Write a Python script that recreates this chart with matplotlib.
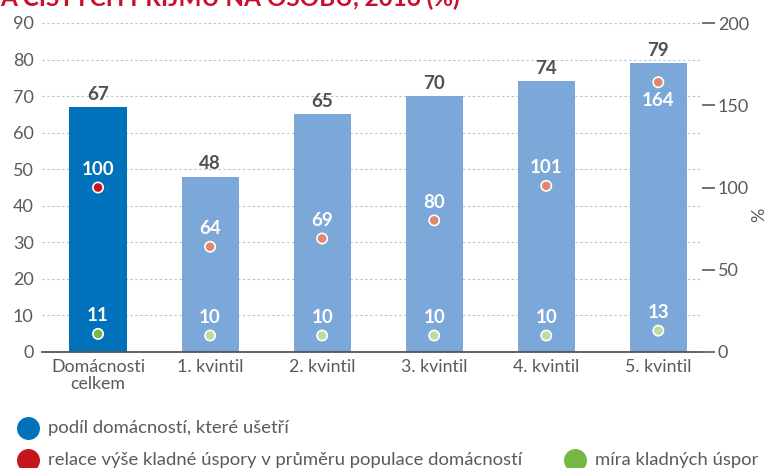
import matplotlib
matplotlib.use('Agg')
import matplotlib.pyplot as plt
from matplotlib.lines import Line2D

plt.rcParams['font.family'] = ['Lato', 'DejaVu Sans']

categories = ['Domácnosti\ncelkem', '1. kvintil', '2. kvintil', '3. kvintil', '4. kvintil', '5. kvintil']
share_saving = [67, 48, 65, 70, 74, 79]
relative_saving = [100, 64, 69, 80, 101, 164]
saving_rate = [11, 10, 10, 10, 10, 13]

bar_colors = ['#0071bb'] + ['#7ba7d9'] * 5
red_colors = ['#c4161c'] + ['#e0876f'] * 5
green_colors = ['#76b843'] + ['#bcdca3'] * 5
grey = '#5a5a5a'

fig = plt.figure(figsize=(7.69, 4.68), dpi=100)
ax = fig.add_axes([42 / 769, 1 - 352 / 468, 660 / 769, 329 / 468])
ax2 = ax.twinx()

x = list(range(len(categories)))
ax.bar(x, share_saving, width=0.51, color=bar_colors, zorder=2)
ax.set_xlim(-0.5, 5.39)
ax.set_ylim(0, 90)
ax.set_yticks(range(0, 91, 10))
ax.grid(axis='y', color='#c2c2c2', linestyle=(0, (2.2, 2.2)), linewidth=0.8, zorder=0)
ax.set_axisbelow(True)
ax.set_xticks(x)
ax.set_xticklabels(categories, fontsize=12.8, color=grey, linespacing=1.05)
ax.tick_params(axis='x', length=0, pad=5)
ax.tick_params(axis='y', length=0, pad=6, labelsize=13, labelcolor=grey)
for s in ['top', 'left', 'right']:
    ax.spines[s].set_visible(False)
    ax2.spines[s].set_visible(False)
ax.spines['bottom'].set_color('#555555')
ax.spines['bottom'].set_linewidth(1.3)
ax2.spines['bottom'].set_visible(False)

for xi, v in zip(x, share_saving):
    ax.annotate(str(v), (xi, v), xytext=(0, 3), textcoords='offset points',
                ha='center', va='bottom', fontsize=13.5, fontweight='bold', color='#505050')

ax2.set_ylim(0, 200)
ax2.set_yticks(range(0, 201, 50))
ax2.tick_params(axis='y', direction='out', length=9.5, width=1.2, color=grey,
                labelsize=13, labelcolor=grey, pad=2)
ax2.set_ylabel('%', fontsize=13, color=grey)
ax2.yaxis.set_label_coords(1.075, 0.416)

ax2.scatter(x, relative_saving, s=55, c=red_colors, edgecolors='white', linewidths=1.2, zorder=3)
ax2.scatter(x, saving_rate, s=55, c=green_colors, edgecolors='white', linewidths=1.2, zorder=3)
for xi, v in zip(x, relative_saving):
    below = v > 150
    ax2.annotate(str(v), (xi, v), xytext=(0, -7 if below else 7), textcoords='offset points',
                 ha='center', va='top' if below else 'bottom', fontsize=13.5,
                 fontweight='bold', color='white')
for xi, v in zip(x, saving_rate):
    ax2.annotate(str(v), (xi, v), xytext=(0, 7), textcoords='offset points',
                 ha='center', va='bottom', fontsize=13.5, fontweight='bold', color='white')

fig.text(0.0, 1 - 6 / 468, 'A ČISTÝCH PŘÍJMŮ NA OSOBU, 2016 (%)', fontsize=17.5,
         fontweight='bold', color='#c8102e', ha='left', va='baseline')

legend_items = [
    (28 / 769, 1 - 428 / 468, '#0071bb', 'podíl domácností, které ušetří'),
    (28 / 769, 1 - 460 / 468, '#c4161c', 'relace výše kladné úspory v průměru populace domácností'),
    (575 / 769, 1 - 460 / 468, '#76b843', 'míra kladných úspor'),
]
for lx, ly, col, txt in legend_items:
    fig.add_artist(Line2D([lx], [ly], marker='o', markersize=15.5, color=col, linestyle='none',
                          transform=fig.transFigure))
    fig.text(lx + 20 / 769, ly, txt, fontsize=13.3, color=grey, ha='left', va='center')

fig.savefig('out.png', dpi=100)
